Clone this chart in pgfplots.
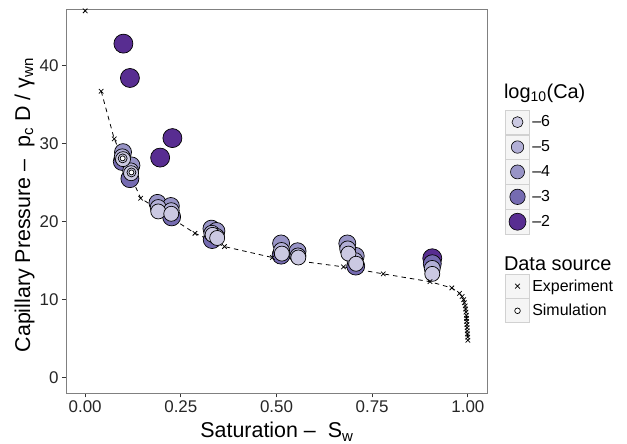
\documentclass[border=0pt]{standalone}
\usepackage{fontspec}
\setmainfont{Liberation Sans}
\usepackage{pgfplots}
\usepackage{pgfplotstable}
\pgfplotsset{compat=1.18}

\definecolor{c6}{RGB}{203,201,226}
\definecolor{c5}{RGB}{178,175,214}
\definecolor{c4}{RGB}{152,148,198}
\definecolor{c3}{RGB}{117,107,177}
\definecolor{c2}{RGB}{88,45,145}

\pgfplotstableread{
sw pc
0.000 47.0
0.042 36.7
0.076 30.6
0.145 23.0
0.287 18.5
0.364 16.8
0.489 15.4
0.675 14.2
0.779 13.3
0.901 12.3
0.958 11.5
0.978 10.8
0.985 10.4
0.989 10.0
0.991 9.6
0.993 9.2
0.994 8.8
0.995 8.4
0.996 8.0
0.9965 7.6
0.997 7.2
0.9975 6.8
0.998 6.4
0.9985 6.0
0.999 5.6
0.9995 5.2
1.000 4.8
}\exper

\pgfplotstableread{
sw pc
0.100 42.8
0.117 38.4
0.228 30.7
0.196 28.2
0.907 15.3
}\simtwo

\pgfplotstableread{
sw pc
0.097 27.7
0.117 25.5
0.226 20.6
0.332 17.7
0.512 15.7
0.707 14.3
0.907 14.6
}\simthree

\pgfplotstableread{
sw pc
0.099 28.9
0.121 27.2
0.189 22.4
0.224 22.0
0.330 19.1
0.343 18.8
0.512 17.2
0.555 16.2
0.685 17.2
0.707 15.6
}\simfour

\pgfplotstableread{
sw pc
0.097 28.3
0.119 26.5
0.191 21.8
0.225 21.4
0.331 18.5
0.343 18.1
0.513 16.3
0.556 15.6
0.686 16.5
0.705 15.0
0.907 14.0
}\simfive

\pgfplotstableread{
sw pc
0.099 28.0
0.120 26.2
0.191 21.3
0.225 21.0
0.333 18.3
0.345 17.9
0.514 15.9
0.557 15.4
0.688 15.9
0.708 14.6
0.907 13.3
}\simsix

\pgfplotstableread{
sw pc
0.098 28.1
0.121 26.3
}\simsmall

\newcommand{\cakey}[2]{%
  \addlegendimage{legend image code/.code={%
    \draw[draw=black!18, fill=black!4, line width=0.6bp] (0bp,-12.15bp) rectangle (24bp,12.15bp);
    \draw[draw=black, fill=#1, line width=0.6bp] (12bp,0bp) circle (#2);
  }}%
}

\begin{document}
\begin{tikzpicture}
\useasboundingbox (-66bp,-50.7bp) rectangle (561bp,393.3bp);
\begin{axis}[
  scale only axis, width=421bp, height=384bp,
  at={(0,0)}, anchor=south west,
  xmin=-0.05, xmax=1.05, ymin=-2.0, ymax=47.2,
  xtick={0,0.25,0.5,0.75,1}, xticklabels={0.00,0.25,0.50,0.75,1.00},
  ytick={0,10,20,30,40},
  /pgf/number format/assume math mode=true,
  axis line style={draw=black!50, line width=1bp},
  tick align=outside, major tick length=4bp,
  xtick pos=bottom, ytick pos=left,
  every tick/.style={black!80, line width=0.8bp},
  ticklabel style={font=\fontsize{17}{17}\selectfont, text=black!85},
  xlabel={Saturation –\ \ S\textsubscript{w}},
  ylabel={Capillary Pressure –\ \ p\textsubscript{c} D / γ\textsubscript{wn}},
  label style={font=\fontsize{21.5}{21.5}\selectfont},
  xlabel style={at={(axis description cs:0.501,-0.1164)}, anchor=base},
  ylabel style={at={(axis description cs:-0.0855,0.49)}, anchor=base},
  legend cell align=left,
  legend style={at={(1.0428,0.8107)}, anchor=north west, draw=none, fill=none,
    inner sep=0pt, row sep=0pt, column sep=2.5bp,
    font=\fontsize{16}{16}\selectfont, nodes={inner sep=0pt}},
]
% experiment curve
\addplot[forget plot, black, line width=0.8bp, dash pattern=on 4.5bp off 4bp,
  restrict x to domain=0.01:1.1] table[x=sw,y=pc] {\exper};
% simulation circles
\addplot[forget plot, only marks, mark=*, mark size=9.5bp, draw=black, fill=c2,
  mark options={line width=0.7bp}] table[x=sw,y=pc] {\simtwo};
\addplot[forget plot, only marks, mark=*, mark size=9bp, draw=black, fill=c3,
  mark options={line width=0.7bp}] table[x=sw,y=pc] {\simthree};
\addplot[forget plot, only marks, mark=*, mark size=8.5bp, draw=black, fill=c4,
  mark options={line width=0.7bp}] table[x=sw,y=pc] {\simfour};
\addplot[forget plot, only marks, mark=*, mark size=8bp, draw=black, fill=c5,
  mark options={line width=0.7bp}] table[x=sw,y=pc] {\simfive};
\addplot[forget plot, only marks, mark=*, mark size=7.5bp, draw=black, fill=c6,
  mark options={line width=0.7bp}] table[x=sw,y=pc] {\simsix};
\addplot[forget plot, only marks, mark=*, mark size=4.5bp, draw=black, fill=c6,
  mark options={line width=0.7bp}] table[x=sw,y=pc] {\simsmall};
\addplot[forget plot, only marks, mark=*, mark size=2.5bp, draw=black, fill=white,
  mark options={line width=0.7bp}] table[x=sw,y=pc] {\simsmall};
% experiment marks
\addplot[forget plot, only marks, mark=x, mark size=3.2bp, black,
  mark options={line width=0.75bp}] table[x=sw,y=pc] {\exper};

% legend
\addlegendimage{legend image code/.code={%
  \path[draw=none, fill=none] (0bp,-11bp) rectangle (24bp,16.5bp);
  \node[overlay, anchor=base west, inner sep=0pt, draw=none, fill=none, text=black, font=\fontsize{20}{20}\selectfont] at (-1.7bp,0bp) {log\textsubscript{10}(Ca)};
}}
\addlegendentry{}
\cakey{c6}{5.5bp}\addlegendentry{–6}
\cakey{c5}{6.2bp}\addlegendentry{–5}
\cakey{c4}{7bp}\addlegendentry{–4}
\cakey{c3}{7.7bp}\addlegendentry{–3}
\cakey{c2}{8.5bp}\addlegendentry{–2}
\addlegendimage{legend image code/.code={%
  \path[draw=none, fill=none] (0bp,-3.4bp) rectangle (24bp,36.3bp);
  \node[overlay, anchor=base west, inner sep=0pt, draw=none, fill=none, text=black, font=\fontsize{20}{20}\selectfont] at (-1.7bp,0bp) {Data source};
}}
\addlegendentry{}
\addlegendimage{legend image code/.code={%
  \draw[draw=black!18, fill=black!4, line width=0.6bp] (0bp,-12bp) rectangle (24bp,12bp);
  \draw[black, line width=0.7bp] (9.6bp,-2.4bp) -- (14.4bp,2.4bp) (9.6bp,2.4bp) -- (14.4bp,-2.4bp);
}}
\addlegendentry{Experiment}
\addlegendimage{legend image code/.code={%
  \draw[draw=black!18, fill=black!4, line width=0.6bp] (0bp,-12bp) rectangle (24bp,12bp);
  \draw[black, fill=white, line width=0.7bp] (12bp,0bp) circle (2.8bp);
}}
\addlegendentry{Simulation}
\end{axis}
\end{tikzpicture}
\end{document}
